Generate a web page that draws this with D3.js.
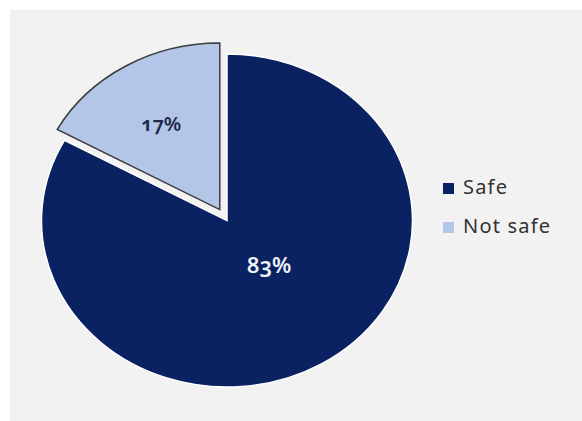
<!DOCTYPE html>
<html>
<head>
<meta charset="utf-8">
<script src="https://cdn.jsdelivr.net/npm/d3@7"></script>
<style>
  html, body { margin: 0; padding: 0; background: #ffffff; }
  svg { display: block; }
  text { font-family: "Noto Sans", "Open Sans", sans-serif; font-feature-settings: "onum" 1; }
</style>
</head>
<body>
<svg id="chart" width="582" height="421"></svg>
<script>
// Share of respondents
const categories = ["Safe", "Not safe"];
const values = [83, 17];
const valueLabels = ["83%", "17%"];
const colors = ["#0a2262", "#b4c6e7"];
const exploded = [false, true];

const W = 582, H = 421;
const svg = d3.select("#chart");

// chart area panel
svg.append("rect")
  .attr("x", 10).attr("y", 10)
  .attr("width", W - 10).attr("height", H - 10)
  .attr("fill", "#f2f2f2");

const cx = 227, cy = 220.5;
const r = 166.5;
const sx = 1.114;          // horizontal stretch of the plot
const explodeDist = 12.7;

const pie = d3.pie().sort(null).value(d => d.value);
const arcs = pie(categories.map((c, i) => ({ name: c, value: values[i], label: valueLabels[i], color: colors[i], exploded: exploded[i] })));

const arc = d3.arc().innerRadius(0).outerRadius(r);

function offset(d) {
  if (!d.data.exploded) return [0, 0];
  const a = (d.startAngle + d.endAngle) / 2;
  return [Math.sin(a) * explodeDist, -Math.cos(a) * explodeDist];
}

const g = svg.append("g").attr("transform", `translate(${cx},${cy}) scale(${sx},1)`);

g.selectAll("path.slice")
  .data(arcs)
  .join("path")
  .attr("class", "slice")
  .attr("d", arc)
  .attr("transform", d => { const o = offset(d); return `translate(${o[0]},${o[1]})`; })
  .attr("fill", d => d.data.color)
  .attr("stroke", d => d.data.exploded ? "#3c3c3c" : "#ffffff")
  .attr("stroke-width", 1.5)
  .attr("stroke-linejoin", "miter")
  .style("vector-effect", "non-scaling-stroke");

// value labels (kept unscaled)
const labelR = d => d.data.exploded ? r * 0.6 : r * 0.34;
svg.selectAll("text.value")
  .data(arcs)
  .join("text")
  .attr("class", "value")
  .attr("x", d => {
    const a = (d.startAngle + d.endAngle) / 2;
    const o = offset(d);
    return cx + (Math.sin(a) * labelR(d) + o[0]) * sx;
  })
  .attr("y", d => {
    const a = (d.startAngle + d.endAngle) / 2;
    const o = offset(d);
    return cy - Math.cos(a) * labelR(d) + o[1];
  })
  .attr("dx", d => d.data.exploded ? -2 : 10)
  .attr("dy", d => d.data.exploded ? "0.35em" : "0.15em")
  .attr("text-anchor", "middle")
  .attr("font-size", d => d.data.exploded ? 20 : 22)
  .attr("font-weight", 600)
  .attr("fill", d => d.data.exploded ? "#1b2a4a" : "#eef1f8")
  .text(d => d.data.label);

// legend
const legend = svg.append("g").attr("transform", "translate(443,183)");
const item = legend.selectAll("g")
  .data(categories)
  .join("g")
  .attr("transform", (d, i) => `translate(0,${i * 39})`);
item.append("rect")
  .attr("width", 11).attr("height", 11)
  .attr("fill", (d, i) => colors[i]);
item.append("text")
  .attr("x", 20).attr("y", 11)
  .attr("font-size", 20)
  .attr("letter-spacing", 1.2)
  .attr("fill", "#333333")
  .text(d => d);
</script>
</body>
</html>
